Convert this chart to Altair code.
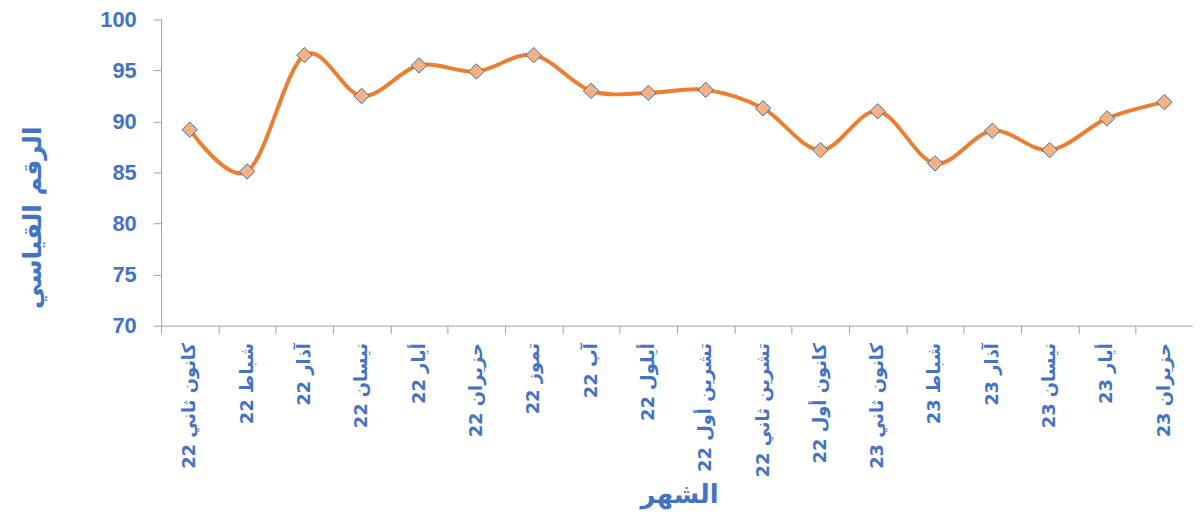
import altair as alt
import pandas as pd

months = ["كانون ثاني 22", "شباط 22", "آذار 22", "نيسان 22", "أيار 22", "حزيران 22",
          "تموز 22", "آب 22", "أيلول 22", "تشرين أول 22", "تشرين ثاني 22", "كانون أول 22",
          "كانون ثاني 23", "شباط 23", "آذار 23", "نيسان 23", "أيار 23", "حزيران 23"]
values = [89.2, 85.1, 96.5, 92.5, 95.5, 94.9, 96.5, 93.0, 92.8, 93.1, 91.3, 87.2,
          91.0, 85.9, 89.1, 87.2, 90.3, 91.9]
y_ticks = [70, 75, 80, 85, 90, 95, 100]

df = pd.DataFrame({"month": months, "value": values})

BLUE = "#4472C4"
GRAY = "#A0A0A0"
AR_FONT = "DejaVu Sans"
NUM_FONT = "Liberation Sans"

x_enc = alt.X(
    "month:N", sort=months, bandPosition=0.5,
    scale=alt.Scale(type="band", paddingInner=0, paddingOuter=0),
    axis=alt.Axis(
        title="الشهر", domainColor=GRAY, tickColor=GRAY, tickSize=8, tickBand="extent",
        labelAngle=-90, labelAlign="right", labelBaseline="middle",
        labelFont=AR_FONT, labelFontSize=18, labelFontWeight="bold", labelColor=BLUE,
        labelPadding=9, labelOverlap=False, labelLimit=400,
        titleFont=AR_FONT, titleFontSize=26, titleFontWeight="bold", titleColor=BLUE,
        titleX=521, titleY=170, titleAlign="center", titleBaseline="middle", titleAngle=0,
    ),
)
y_enc = alt.Y(
    "value:Q",
    scale=alt.Scale(domain=[70, 100], nice=False, zero=False),
    axis=alt.Axis(
        values=y_ticks, grid=False, domainColor=GRAY, tickColor=GRAY, tickSize=8,
        labelFont=NUM_FONT, labelFontSize=22, labelFontWeight="bold", labelColor=BLUE,
        labelPadding=17,
        title="الرقم القياسي", titleFont=AR_FONT, titleFontSize=25, titleFontWeight="bold",
        titleColor=BLUE, titleAngle=-90, titleX=-129, titleY=199,
        titleAlign="center", titleBaseline="middle",
    ),
)

line = alt.Chart(df).mark_line(interpolate="cardinal", color="#ED7D31", strokeWidth=4).encode(
    x=x_enc, y=y_enc
)
points = alt.Chart(df).mark_point(
    shape="diamond", filled=True, fill="#F4B183", stroke="#41719C",
    strokeWidth=1, size=240, opacity=1
).encode(x=x_enc, y=y_enc)

chart = (line + points).properties(
    width=1038, height=308,
    padding={"left": 154, "top": 10, "right": 0, "bottom": 192},
    autosize=alt.AutoSizeParams(type="none"),
).configure_view(stroke=None)

chart.save("out.html", embed_options={"renderer": "svg", "actions": False})
